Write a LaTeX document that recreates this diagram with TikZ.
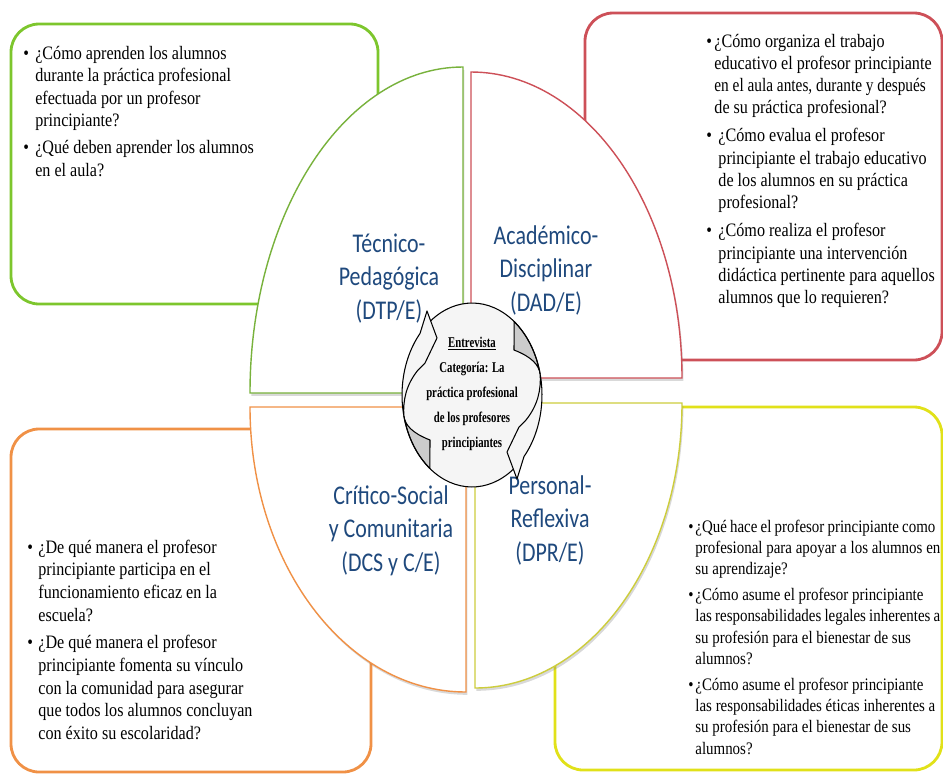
\documentclass[tikz,border=0pt]{standalone}
\usepackage{fontspec}
\usepackage{graphicx}
\setmainfont{Liberation Serif}
\newfontfamily\qfont[FakeStretch=0.85]{Liberation Serif}
\newfontfamily\labfont[FakeStretch=0.81]{Carlito}
\newfontfamily\midfont[FakeStretch=0.72]{Liberation Serif}
\usetikzlibrary{shadows}

\definecolor{grn}{RGB}{125,198,45}
\definecolor{grnq}{RGB}{120,178,60}
\definecolor{rd}{RGB}{205,80,88}
\definecolor{org}{RGB}{240,145,70}
\definecolor{ylw}{RGB}{225,225,25}
\definecolor{ylwq}{RGB}{205,205,60}
\definecolor{labblue}{RGB}{31,73,125}

\begin{document}
\begin{tikzpicture}[x=0.02cm, y=-0.02cm,
    qbox/.style={line width=1.6pt, rounded corners=16pt, fill=white},
    quad/.style={line width=0.8pt, fill=white,
        drop shadow={shadow xshift=0.8pt, shadow yshift=-1.6pt, opacity=0.3}},
    lab/.style={align=center, inner sep=0pt, anchor=base, text=labblue,
        font=\labfont\fontsize{15.4}{18.8}\selectfont},
    qtext/.style={inner sep=0pt, anchor=base west,
        font=\qfont\fontsize{10.8}{12.9}\selectfont},
    mid/.style={align=center, inner sep=0pt, anchor=base,
        font=\midfont\bfseries\fontsize{8.5}{14.2}\selectfont},
    ring/.style={line width=0.6pt, line join=round},
    crescent/.style={ring, fill=gray!40}]

    \useasboundingbox (0,0) rectangle (943,775);

    \coordinate (ctp) at (463,393);
    \coordinate (cad) at (471,378);
    \coordinate (ccs) at (466,407);
    \coordinate (cpr) at (475,403);
    \coordinate (mc) at (472,395);

    % question boxes
    \draw[qbox, draw=grn] (11,24) rectangle (378,304);
    \draw[qbox, draw=rd] (585,13) rectangle (942,360);
    \draw[qbox, draw=org] (11,429) rectangle (371,772);
    \draw[qbox, draw=ylw] (555,407) rectangle (942,770);

    % the four quarters
    \draw[quad, draw=grnq] (ctp) -- ++(0,-326)
        arc[start angle=270, end angle=180, x radius=213, y radius=326] -- cycle;
    \draw[quad, draw=rd] (cad) -- ++(0,-306)
        arc[start angle=270, end angle=360, x radius=211, y radius=306] -- cycle;
    \draw[quad, draw=org] (ccs) -- ++(-216,0)
        arc[start angle=180, end angle=90, x radius=216, y radius=285] -- cycle;
    \draw[quad, draw=ylwq] (cpr) -- ++(207,0)
        arc[start angle=0, end angle=90, x radius=207, y radius=285] -- cycle;

    % labels sit on the baseline of their last line
    \node[lab] (tp) at (389,319) {Técnico-\\Pedagógica\\(DTP/E)};
    \node[lab] (ad) at (546,311) {Académico-\\Disciplinar\\(DAD/E)};
    \node[lab] (cs) at (391,571) {Crítico-Social\\y Comunitaria\\(DCS y C/E)};
    \node[lab] (pr) at (550,561) {Personal-\\Reflexiva\\(DPR/E)};

    % circular arrows in the middle
    \fill[gray!8] (mc) ellipse[x radius=70, y radius=92];
    \begin{scope}
        \fill[gray!8] (420,333) -- (427,311) -- (437,338) -- (425,363) -- cycle;
        \filldraw[crescent] (403.8,415.7)
            arc[start angle=167, end angle=127, x radius=70, y radius=92]
            -- (430,440) .. controls (412,433) and (405,425) .. (403.8,415.7);
        \draw[ring] (429.9,468.5)
            arc[start angle=127, end angle=222, x radius=70, y radius=92]
            -- (427,311) -- (437,338) -- (425,363) -- (418,370)
            .. controls (406,385) and (403,400) .. (403.8,415.7);
        \draw[ring] (430.9,320.6)
            arc[start angle=234, end angle=307, x radius=70, y radius=92];
    \end{scope}
    \begin{scope}[rotate around={180:(mc)}]
        \fill[gray!8] (420,333) -- (427,311) -- (437,338) -- (425,363) -- cycle;
        \filldraw[crescent] (403.8,415.7)
            arc[start angle=167, end angle=127, x radius=70, y radius=92]
            -- (430,440) .. controls (412,433) and (405,425) .. (403.8,415.7);
        \draw[ring] (429.9,468.5)
            arc[start angle=127, end angle=222, x radius=70, y radius=92]
            -- (427,311) -- (437,338) -- (425,363) -- (418,370)
            .. controls (406,385) and (403,400) .. (403.8,415.7);
        \draw[ring] (430.9,320.6)
            arc[start angle=234, end angle=307, x radius=70, y radius=92];
    \end{scope}

    \node[mid] (ent) at (472,447) {\underline{Entrevista}\\Categoría: La\\práctica profesional\\de los profesores\\principiantes};

    % questions
    \node[qtext] (qtp) at (23,59) {\begin{tabular}[t]{@{}p{6.8pt}@{}l@{}}
        \textbullet & ¿Cómo aprenden los alumnos\\
         & durante la práctica profesional\\
         & efectuada por un profesor\\
         & principiante?\\[2.4pt]
        \textbullet & ¿Qué deben aprender los alumnos\\
         & en el aula?
        \end{tabular}};
    \node[qtext] (qad) at (706,47) {\fontsize{10.8}{12.7}\selectfont
        \begin{tabular}[t]{@{}p{4.6pt}@{}l@{}}
        \textbullet & ¿Cómo organiza el trabajo\\
         & educativo el profesor principiante\\
         & \scalebox{0.95}[1]{en el aula antes, durante y después}\\
         & de su práctica profesional?\\[3.2pt]
        \textbullet & \hspace{2.3pt}¿Cómo evalua el profesor\\
         & \hspace{2.3pt}principiante el trabajo educativo\\
         & \hspace{2.3pt}de los alumnos en su práctica\\
         & \hspace{2.3pt}profesional?\\[3.2pt]
        \textbullet & \hspace{2.3pt}¿Cómo realiza el profesor\\
         & \hspace{2.3pt}principiante una intervención\\
         & \hspace{2.3pt}didáctica pertinente para aquellos\\
         & \hspace{2.3pt}alumnos que lo requieren?
        \end{tabular}};
    \node[qtext] (qcs) at (27,553) {\begin{tabular}[t]{@{}p{6.3pt}@{}l@{}}
        \textbullet & ¿De qué manera el profesor\\
         & principiante participa en el\\
         & funcionamiento eficaz en la\\
         & escuela?\\[3pt]
        \textbullet & ¿De qué manera el profesor\\
         & principiante fomenta su vínculo\\
         & con la comunidad para asegurar\\
         & que todos los alumnos concluyan\\
         & con éxito su escolaridad?
        \end{tabular}};
    \node[qtext] (qpr) at (688,532) {\fontsize{10}{12.1}\selectfont
        \begin{tabular}[t]{@{}p{4pt}@{}l@{}}
        \textbullet & \makebox[4.8cm][s]{¿Qué hace el profesor principiante como}\\
         & \makebox[4.9cm][s]{profesional para apoyar a los alumnos en}\\
         & su aprendizaje?\\[2.7pt]
        \textbullet & ¿Cómo asume el profesor principiante\\
         & \makebox[4.9cm][s]{las responsabilidades legales inherentes a}\\
         & su profesión para el bienestar de sus\\
         & alumnos?\\[2.7pt]
        \textbullet & ¿Cómo asume el profesor principiante\\
         & \makebox[4.8cm][s]{las responsabilidades éticas inherentes a}\\
         & su profesión para el bienestar de sus\\
         & alumnos?
        \end{tabular}};
\end{tikzpicture}
\end{document}
